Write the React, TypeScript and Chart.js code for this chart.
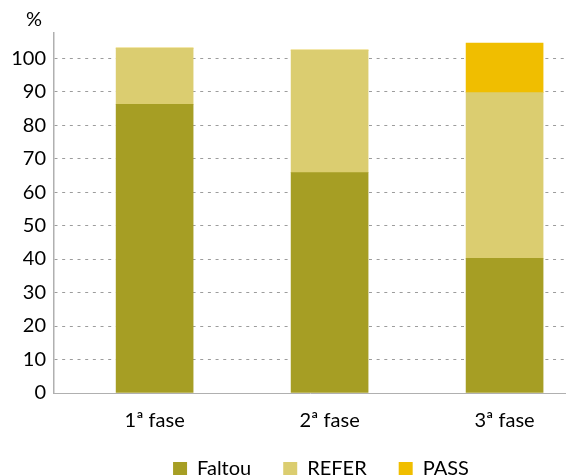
import { useEffect, useRef } from 'react';
import { Chart, registerables } from 'chart.js';

Chart.register(...registerables);

const categories = ['1ª fase', '2ª fase', '3ª fase'];
const seriesNames = ['Faltou', 'REFER', 'PASS'];
const faltou = [86.2, 65.8, 40.2];
const refer = [16.8, 36.6, 49.5];
const pass = [0, 0, 14.8];
const yTicks = [0, 10, 20, 30, 40, 50, 60, 70, 80, 90, 100];
const yUnit = '%';

const FONT = 'Lato';

const unitPlugin = {
  id: 'unitLabel',
  afterLayout(chart: any) {
    const l = chart.legend;
    if (l) {
      l.left += 11;
      l.right += 11;
    }
  },
  afterDraw(chart: any) {
    const { ctx } = chart;
    const yScale = chart.scales.y;
    ctx.save();
    ctx.font = `20px ${FONT}`;
    ctx.fillStyle = '#000';
    ctx.textAlign = 'center';
    ctx.textBaseline = 'middle';
    ctx.fillText(yUnit, yScale.right - 20, chart.chartArea.top - 13);
    ctx.restore();
  },
};

export default function App() {
  const ref = useRef<HTMLCanvasElement | null>(null);

  useEffect(() => {
    if (!ref.current) return;
    const toPts = (arr: number[]) => arr.map((y, i) => ({ x: i, y }));
    const colors = ['#A69E24', '#DBCD70', '#F0BE00'];
    const series = [faltou, refer, pass];
    const chart = new Chart(ref.current, {
      type: 'bar',
      data: {
        datasets: series.map((s, i) => ({
          label: seriesNames[i],
          data: toPts(s),
          backgroundColor: colors[i],
          borderWidth: 0,
          barThickness: 77,
        })),
      },
      options: {
        animation: false,
        responsive: false,
        layout: { padding: { top: 33, left: 0, right: 0, bottom: 0 } },
        plugins: {
          tooltip: { enabled: false },
          legend: {
            position: 'bottom',
            fullSize: false,
            labels: {
              boxWidth: 14,
              boxHeight: 14,
              padding: 32,
              color: '#000',
              font: { family: FONT, size: 20 },
            },
          },
        },
        scales: {
          x: {
            type: 'linear',
            stacked: true,
            offset: false,
            bounds: 'data',
            min: -0.575,
            max: 2.351,
            afterBuildTicks: (scale: any) => {
              scale.ticks = categories.map((_, i) => ({ value: i }));
            },
            afterFit: (scale: any) => {
              scale.height = 34;
            },
            ticks: {
              autoSkip: false,
              maxRotation: 0,
              padding: 16,
              color: '#000',
              font: { family: FONT, size: 20 },
              callback: (v: any) => categories[v as number] ?? '',
            },
            grid: { display: false, drawTicks: false, offset: false },
            border: { display: true, color: '#b0b0b0', width: 1 },
          },
          y: {
            stacked: true,
            min: 0,
            max: 107.5,
            bounds: 'data',
            z: 1,
            afterBuildTicks: (scale: any) => {
              scale.ticks = yTicks.map((v) => ({ value: v }));
            },
            afterFit: (scale: any) => {
              scale.width = 54;
            },
            ticks: {
              padding: 8,
              color: '#000',
              font: { family: FONT, size: 20 },
            },
            grid: {
              drawTicks: false,
              lineWidth: 1,
              color: (c: any) => (c.tick && c.tick.value === 0 ? 'rgba(0,0,0,0)' : '#9c9c9c'),
            },
            border: { display: true, color: '#b0b0b0', width: 1.5, dash: [3, 4.67] },
          },
        },
      },
      plugins: [unitPlugin],
    });
    return () => chart.destroy();
  }, []);

  return (
    <div style={{ position: 'absolute', left: 0, top: 0, width: 566, height: 475, overflow: 'hidden', background: '#fff' }}>
      <canvas ref={ref} width={566} height={489} style={{ display: 'block' }} />
    </div>
  );
}
